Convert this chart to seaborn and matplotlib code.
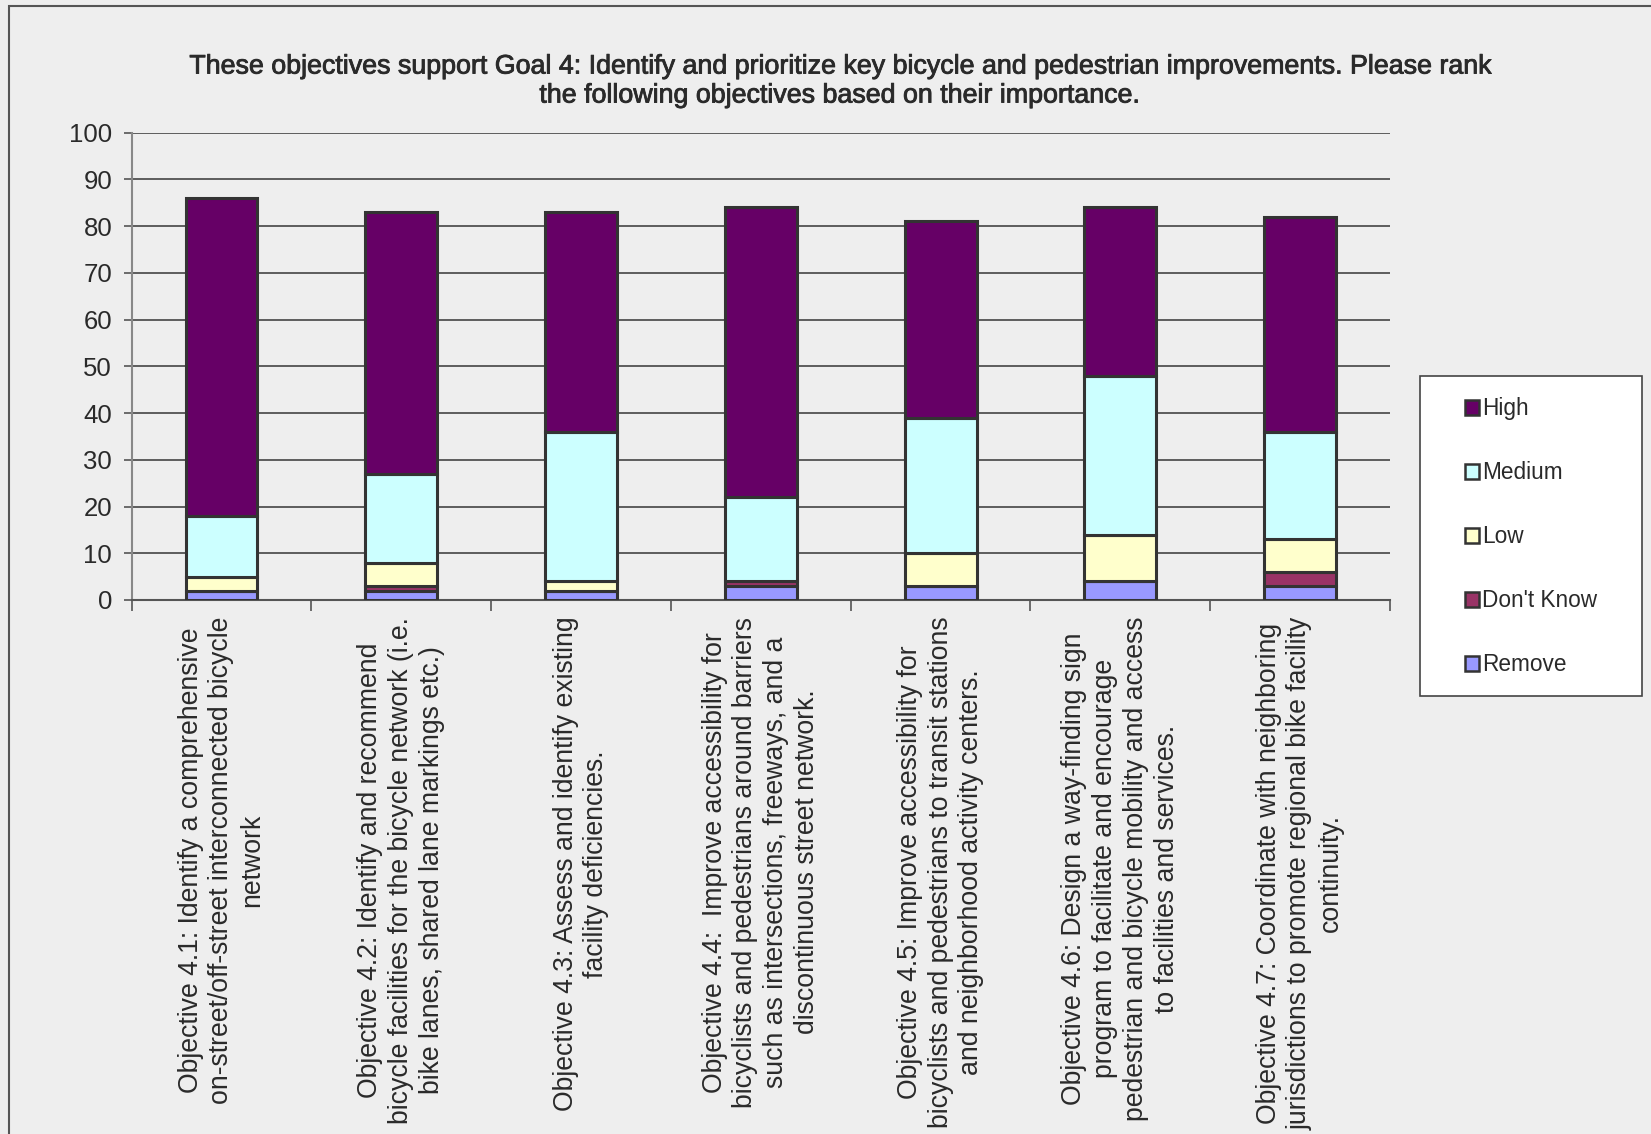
import matplotlib
matplotlib.use("Agg")
import matplotlib.pyplot as plt
import matplotlib.patheffects as pe
import seaborn as sns
import numpy as np
import pandas as pd
from matplotlib.patches import Rectangle, Patch

categories = [
    "Objective 4.1: Identify a comprehensive\non-street/off-street interconnected bicycle\nnetwork",
    "Objective 4.2: Identify and recommend\nbicycle facilities for the bicycle network (i.e.\nbike lanes, shared lane markings etc.)",
    "Objective 4.3: Assess and identify existing\nfacility deficiencies.",
    "Objective 4.4:  Improve accessibility for\nbicyclists and pedestrians around barriers\nsuch as intersections, freeways, and a\ndiscontinuous street network.",
    "Objective 4.5: Improve accessibility for\nbicyclists and pedestrians to transit stations\nand neighborhood activity centers.",
    "Objective 4.6: Design a way-finding sign\nprogram to facilitate and encourage\npedestrian and bicycle mobility and access\nto facilities and services.",
    "Objective 4.7: Coordinate with neighboring\njurisdictions to promote regional bike facility\ncontinuity.",
]
remove = [2, 2, 2, 3, 3, 4, 3]
dont_know = [0, 1, 0, 1, 0, 0, 3]
low = [3, 5, 2, 0, 7, 10, 7]
medium = [13, 19, 32, 18, 29, 34, 23]
high = [68, 56, 47, 62, 42, 36, 46]

series_names = ["Remove", "Don't Know", "Low", "Medium", "High"]
series_values = [remove, dont_know, low, medium, high]
colors = {"High": "#660066", "Medium": "#CCFFFF", "Low": "#FFFFCC",
          "Don't Know": "#993366", "Remove": "#9999FF"}
yticks = [0, 10, 20, 30, 40, 50, 60, 70, 80, 90, 100]
title = ("These objectives support Goal 4: Identify and prioritize key bicycle and pedestrian improvements. Please rank\n"
         "the following objectives based on their importance.")

sns.set_theme(style="white")
plt.rcParams['font.family'] = ['Liberation Sans', 'DejaVu Sans']
TXT = "#2a2a2a"

fig = plt.figure(figsize=(16.51, 11.34), dpi=100)
fig.patch.set_facecolor("#EEEEEE")
ax = fig.add_axes([0.0797, 0.4709, 0.7622, 0.4121])
ax.set_facecolor("#EEEEEE")

df = pd.DataFrame({"cat": categories})
bottom = np.zeros(len(categories))
for name, vals in zip(series_names, series_values):
    df["val"] = vals
    sns.barplot(data=df, x="cat", y="val", order=categories, bottom=bottom,
                color=colors[name], edgecolor="#333333", linewidth=2.2,
                width=0.4, saturation=1, ax=ax, zorder=3)
    bottom = bottom + np.array(vals)

ax.set_ylim(0, 100)
ax.set_xlim(-0.5, len(categories) - 0.5)
ax.set_yticks(yticks)
ax.set_yticklabels([str(t) for t in yticks], fontsize=18.5, color=TXT)
for t in yticks[1:]:
    ax.axhline(t, color="#444444", linewidth=1.2, zorder=1)
ax.set_xlabel("")
ax.set_ylabel("")
ax.set_xticks(range(len(categories)))
ax.set_xticklabels(categories, rotation=90, fontsize=19.2, color=TXT,
                   ha="center", va="top", multialignment="center", linespacing=1.24)
ax.tick_params(axis="x", length=0, pad=12)
ax.tick_params(axis="y", length=6, color="#555555", width=1.2, left=True, pad=8)
ax.set_xticks(np.arange(-0.5, len(categories), 1.0), minor=True)
ax.tick_params(axis="x", which="minor", length=8, color="#555555", width=1.2, bottom=True, direction="out")
for s in ["top", "right"]:
    ax.spines[s].set_visible(False)
ax.spines["left"].set_color("#888888")
ax.spines["left"].set_linewidth(1.5)
ax.spines["bottom"].set_color("#555555")
ax.spines["bottom"].set_linewidth(1.5)

ttl = fig.text(0.508, 0.9285, title, ha="center", va="center", fontsize=19.3,
               color=TXT, linespacing=1.15)
ttl.set_path_effects([pe.withStroke(linewidth=0.6, foreground=TXT)])

# legend box
fig.patches.append(Rectangle((0.860, 0.3862), 0.1345, 0.2822, transform=fig.transFigure,
                             facecolor="white", edgecolor="#444444", linewidth=1.2, zorder=1))
legend_order = ["High", "Medium", "Low", "Don't Know", "Remove"]
handles = [Patch(facecolor=colors[n], edgecolor="#333333", linewidth=1.8, label=n) for n in legend_order]
leg = fig.legend(handles=handles, loc="upper left", bbox_to_anchor=(0.8874, 0.6495),
                 frameon=False, fontsize=16.3, handlelength=0.6, handleheight=0.6,
                 handletextpad=0.15, labelspacing=1.81, borderpad=0, borderaxespad=0)
leg.set_zorder(5)
for t in leg.get_texts():
    t.set_color(TXT)

fig.patches.append(Rectangle((0.0055, -0.1), 1.2, 0.0947 + 1.0, transform=fig.transFigure,
                             fill=False, edgecolor="#555555", linewidth=1.5))

fig.savefig("out.png", dpi=100, facecolor=fig.get_facecolor())
